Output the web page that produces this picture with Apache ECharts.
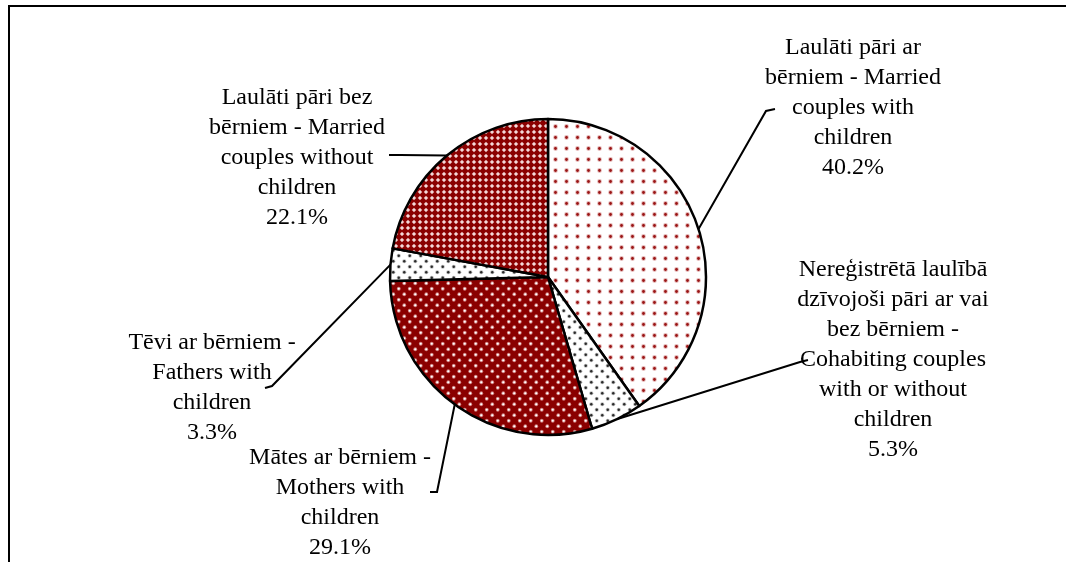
<!DOCTYPE html>
<html>
<head>
<meta charset="utf-8">
<script src="https://cdn.jsdelivr.net/npm/echarts@6/dist/echarts.min.js"></script>
<style>
  html, body { margin: 0; padding: 0; background: #fff; }
  #chart { width: 1066px; height: 562px; }
</style>
</head>
<body>
<div id="chart"></div>
<script>
// household types (share, %)
const categories = [
  'Laulāti pāri ar\nbērniem - Married\ncouples with\nchildren',
  'Nereģistrētā laulībā\ndzīvojoši pāri ar vai\nbez bērniem -\nCohabiting couples\nwith or without\nchildren',
  'Mātes ar bērniem -\nMothers with\nchildren',
  'Tēvi ar bērniem -\nFathers with\nchildren',
  'Laulāti pāri bez\nbērniem - Married\ncouples without\nchildren'
];
const shares = [40.2, 5.3, 29.1, 3.3, 22.1];

// where each label block sits and where its leader line bends / ends
const labelSpots = [
  { x: 853, y: 108, bend: [766, 111], end: [775, 109] },
  { x: 893, y: 360, bend: [800, 362], end: [808, 360] },
  { x: 340, y: 503, bend: [437, 492], end: [430, 492] },
  { x: 212, y: 388, bend: [272, 386], end: [265, 388] },
  { x: 297, y: 158, bend: [400, 155], end: [389, 155] }
];

const RED = '#8a0000';

function makePattern(size, bg, draw) {
  const c = document.createElement('canvas');
  c.width = size;
  c.height = size;
  const ctx = c.getContext('2d');
  ctx.fillStyle = bg;
  ctx.fillRect(0, 0, size, size);
  draw(ctx, size);
  return { image: c, repeat: 'repeat' };
}

function dot(ctx, x, y, r, color) {
  ctx.fillStyle = color;
  ctx.beginPath();
  ctx.arc(x, y, r, 0, Math.PI * 2);
  ctx.fill();
}

function diamond(ctx, x, y, h, color) {
  ctx.fillStyle = color;
  ctx.beginPath();
  ctx.moveTo(x, y - h);
  ctx.lineTo(x + h, y);
  ctx.lineTo(x, y + h);
  ctx.lineTo(x - h, y);
  ctx.closePath();
  ctx.fill();
}

const greyDots = (ctx) => {
  [[2.75, 2.75], [8.25, 8.25]].forEach(([x, y]) => {
    dot(ctx, x, y, 2.1, 'rgba(70,70,70,0.35)');
    dot(ctx, x, y, 1.2, '#2a2a2a');
  });
};

const patterns = [
  // sparse red dots on white
  makePattern(11, '#fff', (ctx) => {
    dot(ctx, 5.5, 5.5, 2.4, 'rgba(190,80,80,0.4)');
    dot(ctx, 5.5, 5.5, 1.4, '#9a1515');
  }),
  // grey dots on white
  makePattern(11, '#fff', greyDots),
  // white dots on dark red
  makePattern(11, RED, (ctx) => {
    [[2.75, 2.75], [8.25, 8.25]].forEach(([x, y]) => {
      dot(ctx, x, y, 1.9, 'rgba(235,180,180,0.7)');
      dot(ctx, x, y, 1.1, '#fff');
    });
  }),
  // grey dots on white
  makePattern(11, '#fff', greyDots),
  // dark red lattice with small light diamonds
  makePattern(6, RED, (ctx) => {
    [[0, 0], [6, 0], [0, 6], [6, 6]].forEach(([x, y]) => {
      diamond(ctx, x, y, 2.3, '#e9bcbc');
      dot(ctx, x, y, 0.8, '#fff');
    });
  })
];

const pieData = categories.map((name, i) => ({
  name: name,
  value: shares[i],
  itemStyle: { color: patterns[i] }
}));

const chart = echarts.init(document.getElementById('chart'), null, { renderer: 'canvas' });

chart.setOption({
  backgroundColor: '#fff',
  animation: false,
  graphic: [{
    type: 'polyline',
    shape: { points: [[9, 562], [9, 6], [1066, 6]] },
    style: { stroke: '#000', lineWidth: 2, fill: null }
  }],
  series: [{
    type: 'pie',
    center: [548, 277],
    radius: 158,
    startAngle: 90,
    clockwise: true,
    avoidLabelOverlap: false,
    data: pieData,
    itemStyle: { borderColor: '#000', borderWidth: 2.5 },
    label: {
      show: true,
      position: 'outside',
      formatter: (p) => p.name + '\n' + p.value.toFixed(1) + '%',
      fontFamily: 'Liberation Serif',
      fontSize: 24,
      lineHeight: 30,
      color: '#000',
      align: 'center'
    },
    labelLine: {
      show: true,
      lineStyle: { color: '#000', width: 2 }
    },
    emphasis: { disabled: true },
    labelLayout: (params) => {
      const spot = labelSpots[params.dataIndex];
      const start = params.labelLinePoints[0];
      return {
        x: spot.x,
        y: spot.y,
        align: 'center',
        verticalAlign: 'middle',
        labelLinePoints: [start, spot.bend, spot.end]
      };
    }
  }]
});
</script>
</body>
</html>
